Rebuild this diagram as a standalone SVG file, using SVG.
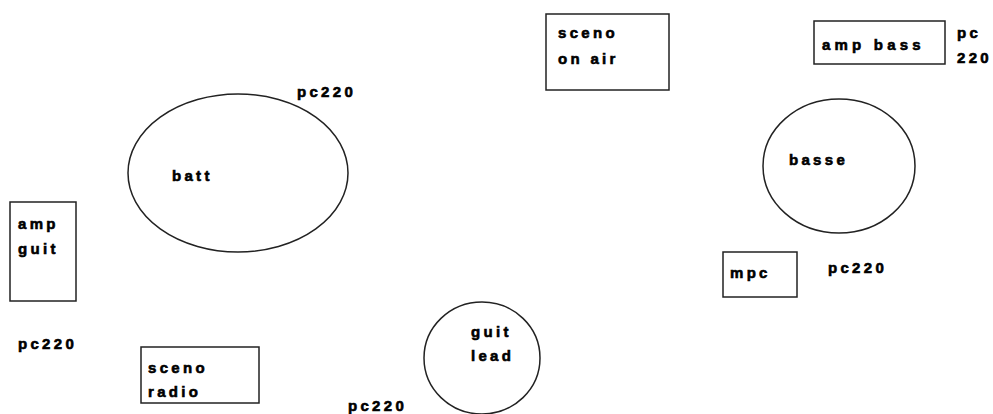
<svg xmlns="http://www.w3.org/2000/svg" width="993" height="414" viewBox="0 0 993 414">
<style>
.s{fill:#fff;stroke:#222;stroke-width:1.5}
text{font-family:"Liberation Sans",Arial,sans-serif;font-weight:bold;font-size:15px;letter-spacing:3.3px;fill:#000;stroke:#000;stroke-width:0.6}
</style>
<rect width="993" height="414" fill="#fff"/>
<g id="connectors"/>
<g id="sceno-on-air"><rect class="s" x="546" y="14" width="123" height="76"/><text x="558" y="38">sceno</text><text x="558" y="64">on air</text></g>
<g id="amp-bass"><rect class="s" x="814" y="21" width="131" height="43"/><text x="822" y="50" style="letter-spacing:4.2px">amp bass</text></g>
<g id="pc220-bass"><text x="957" y="38">pc</text><text x="957" y="63">220</text></g>
<g id="batt"><ellipse class="s" cx="238" cy="173" rx="110" ry="79"/><text x="172" y="181">batt</text></g>
<g id="pc220-batt"><text x="297" y="97">pc220</text></g>
<g id="basse"><ellipse class="s" cx="839" cy="166" rx="76" ry="67"/><text x="789" y="165">basse</text></g>
<g id="amp-guit"><rect class="s" x="10" y="202" width="66" height="99"/><text x="18" y="229">amp</text><text x="18" y="254">guit</text></g>
<g id="pc220-guit"><text x="18" y="349">pc220</text></g>
<g id="mpc"><rect class="s" x="723" y="252" width="74" height="45"/><text x="730" y="278">mpc</text></g>
<g id="pc220-mpc"><text x="828" y="273">pc220</text></g>
<g id="guit-lead"><ellipse class="s" cx="482" cy="358" rx="58" ry="56"/><text x="471" y="337">guit</text><text x="471" y="361">lead</text></g>
<g id="sceno-radio"><rect class="s" x="141" y="347" width="118" height="56"/><text x="148" y="373">sceno</text><text x="148" y="397">radio</text></g>
<g id="pc220-radio"><text x="348" y="411">pc220</text></g>
</svg>
